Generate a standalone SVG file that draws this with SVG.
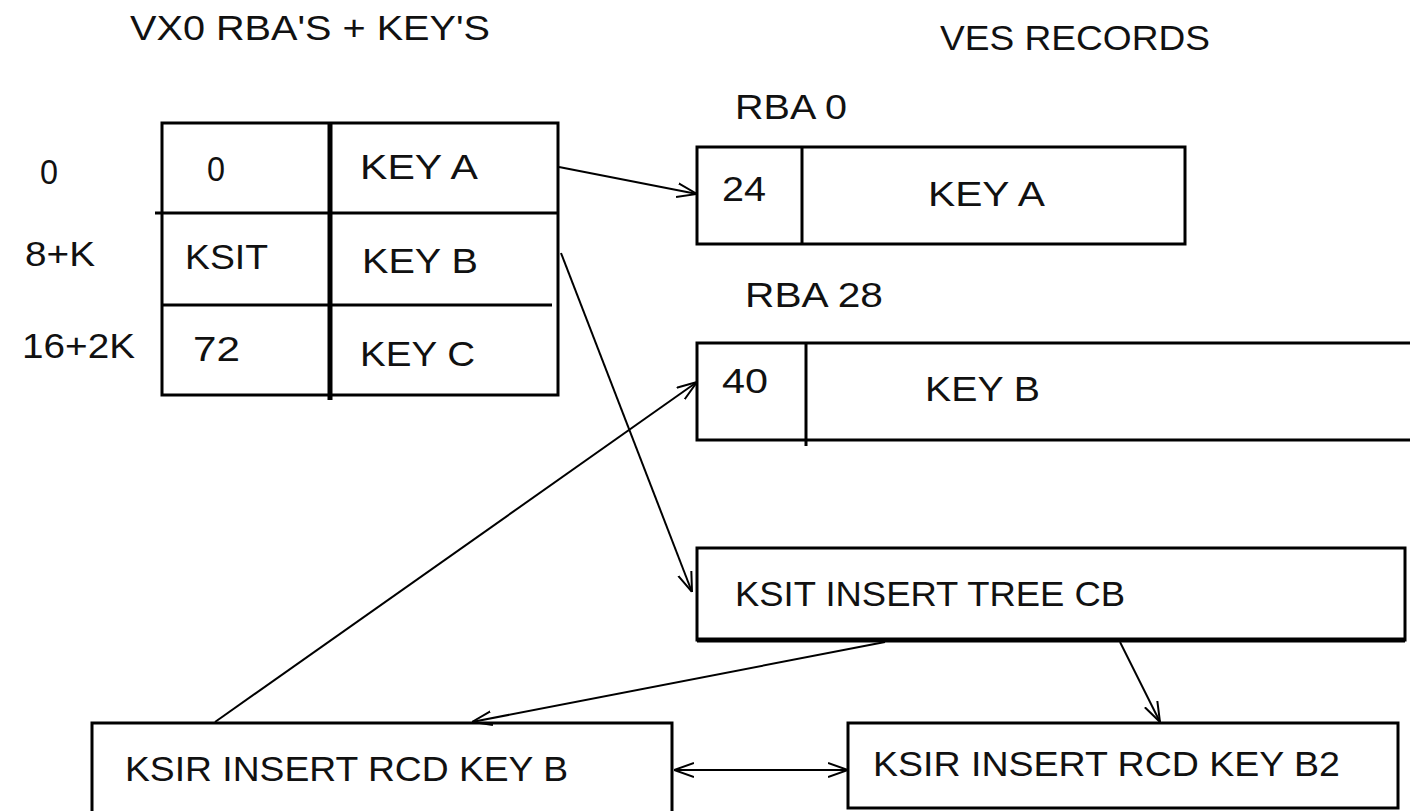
<svg xmlns="http://www.w3.org/2000/svg" width="1410" height="811" viewBox="0 0 1410 811">
<defs>
<style>
text{font-family:"Liberation Sans",Arial,sans-serif;font-size:35px;fill:#111;}
.box{fill:#fff;stroke:#000;stroke-width:3;}
.ln{stroke:#000;stroke-width:3;fill:none;}
.thick{stroke:#000;stroke-width:5;fill:none;}
.con{stroke:#000;stroke-width:2;fill:none;}
</style>
<marker id="arr" viewBox="0 0 20 16" refX="20" refY="8" markerWidth="20" markerHeight="16" markerUnits="userSpaceOnUse" orient="auto-start-reverse">
<path d="M0,1 L20,8 L0,15" fill="none" stroke="#000" stroke-width="2"/>
</marker>
</defs>
<rect width="1410" height="811" fill="#fff"/>
<text x="130" y="40" textLength="360" lengthAdjust="spacingAndGlyphs">VX0 RBA'S + KEY'S</text>
<text x="940" y="50" textLength="270" lengthAdjust="spacingAndGlyphs">VES RECORDS</text>
<g id="vx0-table">
<rect class="box" x="162" y="123" width="396" height="272"/>
<line class="thick" x1="330" y1="123" x2="330" y2="400"/>
<line class="ln" x1="155" y1="213" x2="558" y2="213"/>
<line class="ln" x1="162" y1="305" x2="552" y2="305"/>
<text x="40" y="184" textLength="18" lengthAdjust="spacingAndGlyphs">0</text>
<text x="25" y="266" textLength="70" lengthAdjust="spacingAndGlyphs">8+K</text>
<text x="22" y="358" textLength="113" lengthAdjust="spacingAndGlyphs">16+2K</text>
<text x="207" y="181" textLength="18" lengthAdjust="spacingAndGlyphs">0</text>
<text x="360" y="179" textLength="118" lengthAdjust="spacingAndGlyphs">KEY A</text>
<text x="185" y="269" textLength="83" lengthAdjust="spacingAndGlyphs">KSIT</text>
<text x="362" y="273" textLength="116" lengthAdjust="spacingAndGlyphs">KEY B</text>
<text x="193" y="361" textLength="47" lengthAdjust="spacingAndGlyphs">72</text>
<text x="360" y="366" textLength="115" lengthAdjust="spacingAndGlyphs">KEY C</text>
</g>
<g id="rba0">
<text x="735" y="119" textLength="112" lengthAdjust="spacingAndGlyphs">RBA 0</text>
<rect class="box" x="697" y="147" width="488" height="97"/>
<line class="ln" x1="802" y1="147" x2="802" y2="244"/>
<text x="722" y="201" textLength="44" lengthAdjust="spacingAndGlyphs">24</text>
<text x="928" y="206" textLength="117" lengthAdjust="spacingAndGlyphs">KEY A</text>
</g>
<g id="rba28">
<text x="745" y="307" textLength="138" lengthAdjust="spacingAndGlyphs">RBA 28</text>
<path class="ln" d="M1412,343 L697,343 L697,440 L1412,440"/>
<line class="ln" x1="806" y1="343" x2="806" y2="446"/>
<text x="722" y="393" textLength="46" lengthAdjust="spacingAndGlyphs">40</text>
<text x="925" y="401" textLength="115" lengthAdjust="spacingAndGlyphs">KEY B</text>
</g>
<g id="ksit-tree">
<rect class="box" x="697" y="548" width="708" height="92"/>
<line class="thick" x1="697" y1="640" x2="1405" y2="640"/>
<text x="735" y="606" textLength="390" lengthAdjust="spacingAndGlyphs">KSIT INSERT TREE CB</text>
</g>
<g id="ksir-b">
<path class="ln" d="M92,815 L92,723 L672,723 L672,815"/>
<text x="125" y="781" textLength="443" lengthAdjust="spacingAndGlyphs">KSIR INSERT RCD KEY B</text>
</g>
<g id="ksir-b2">
<rect class="box" x="848" y="723" width="550" height="85"/>
<text x="873" y="776" textLength="467" lengthAdjust="spacingAndGlyphs">KSIR INSERT RCD KEY B2</text>
</g>
<g id="connectors">
<line class="con" x1="559" y1="167" x2="697" y2="194" marker-end="url(#arr)"/>
<line class="con" x1="561" y1="253" x2="692" y2="592" marker-end="url(#arr)"/>
<line class="con" x1="215" y1="722" x2="697" y2="382" marker-end="url(#arr)"/>
<line class="con" x1="885" y1="642" x2="472" y2="722" marker-end="url(#arr)"/>
<line class="con" x1="1120" y1="642" x2="1160" y2="722" marker-end="url(#arr)"/>
<line class="con" x1="674" y1="770" x2="848" y2="770" marker-start="url(#arr)" marker-end="url(#arr)"/>
</g>
</svg>
